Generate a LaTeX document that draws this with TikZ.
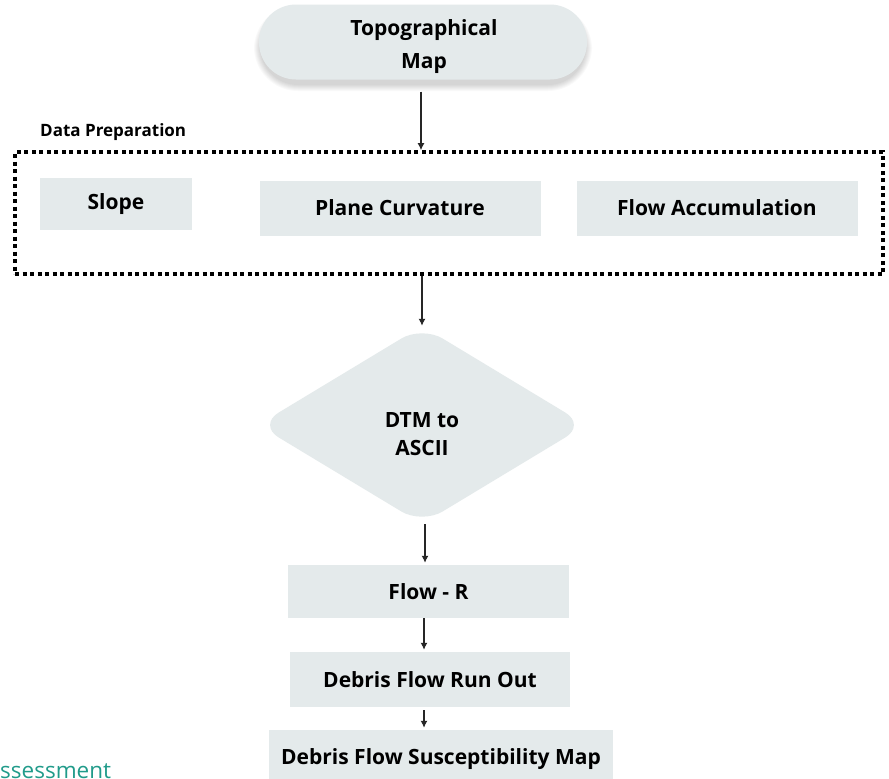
\documentclass[tikz,border=0pt]{standalone}
\usepackage{fontspec}
\setmainfont{Open Sans}
\usetikzlibrary{arrows.meta,shapes.geometric}
\definecolor{boxfill}{RGB}{228,234,235}
\definecolor{tealtext}{RGB}{32,155,138}
\tikzset{
  boxtext/.style={font=\bfseries\fontsize{21}{25}\selectfont, text=black},
  stepbox/.style={fill=boxfill, draw=none, inner sep=0pt, boxtext},
  pill/.style={fill=boxfill, draw=none, inner sep=0pt, rounded corners=37pt},
  softshadow/.style={fill=black, fill opacity=0.022, draw=none},
  decision/.style={fill=boxfill, draw=none, inner sep=0pt, diamond, rounded corners=24pt},
  groupbox/.style={draw=black, line width=3.6pt, dash pattern=on 4pt off 3.5pt, inner sep=0pt},
  arr/.style={draw=black!85, line width=1.3pt, -{Latex[length=7pt,width=7pt]}},
  grouplabel/.style={font=\bfseries\fontsize{17}{20}\selectfont, text=black, inner sep=0pt}
}
\begin{document}
\begin{tikzpicture}[x=1pt,y=-1pt]
  \useasboundingbox (0,0) rectangle (889,779);
  \fill[white] (0,0) rectangle (889,779);

  % soft shadow under the source pill
  \foreach \k in {1,...,7} {
    \fill[softshadow, rounded corners={37pt+\k pt}]
      (259-\k+2, 12-\k) rectangle (587+\k-2, 84+\k);
  }

  % source map
  \node[pill, minimum width=328pt, minimum height=75pt] (topo) at (423,42) {};
  \node[boxtext, align=center, inner sep=0pt] (topotext) at (424,47)
    {Topographical\\[8pt]Map};

  % data preparation group
  \node[groupbox, minimum width=868pt, minimum height=122pt] (prep) at (449,213) {};
  \node[grouplabel, anchor=west] (preplabel) at (40,132) {Data Preparation};
  \node[stepbox, minimum width=152pt, minimum height=52pt] (slope) at (116,204) {Slope};
  \node[stepbox, minimum width=281pt, minimum height=55pt] (curv) at (400,208) {Plane Curvature};
  \node[stepbox, minimum width=281pt, minimum height=55pt] (acc) at (717,208) {Flow Accumulation};

  % conversion step
  \node[decision, minimum width=328pt, minimum height=198pt] (dtm) at (422,425) {};
  \node[boxtext, align=center, inner sep=0pt] (dtmtext) at (422,434)
    {DTM to\\[3pt]ASCII};

  % modelling chain
  \node[stepbox, minimum width=281pt, minimum height=53pt] (flowr) at (428.5,591.5) {Flow - R};
  \node[stepbox, minimum width=280pt, minimum height=55pt] (runout) at (430,679.5) {Debris Flow Run Out};
  \node[stepbox, minimum width=344pt, minimum height=54pt, text depth=0pt] (susc) at (441,757) {Debris Flow Susceptibility Map};

  % trailing caption fragment
  \node[anchor=base west, inner sep=0pt, text=tealtext, font=\fontsize{22.5}{26}\selectfont] (caption) at (0,778.5) {ssessment};

  % connectors
  \coordinate (a1s) at ([xshift=-2pt]topo.south);
  \draw[arr, shorten <=12pt] (a1s) -- (a1s |- prep.north);
  \coordinate (a2s) at (dtm.north |- prep.south);
  \draw[arr] (a2s) -- (dtm.north);
  \coordinate (a3s) at (dtm.south -| 425,0);
  \draw[arr, shorten >=2pt] (a3s) -- (a3s |- flowr.north);
  \coordinate (a4s) at (flowr.south -| 424,0);
  \draw[arr, shorten >=2pt] (a4s) -- (a4s |- runout.north);
  \coordinate (a5s) at (runout.south -| 424,0);
  \draw[arr, shorten <=3pt, shorten >=2pt] (a5s) -- (a5s |- susc.north);
\end{tikzpicture}
\end{document}
